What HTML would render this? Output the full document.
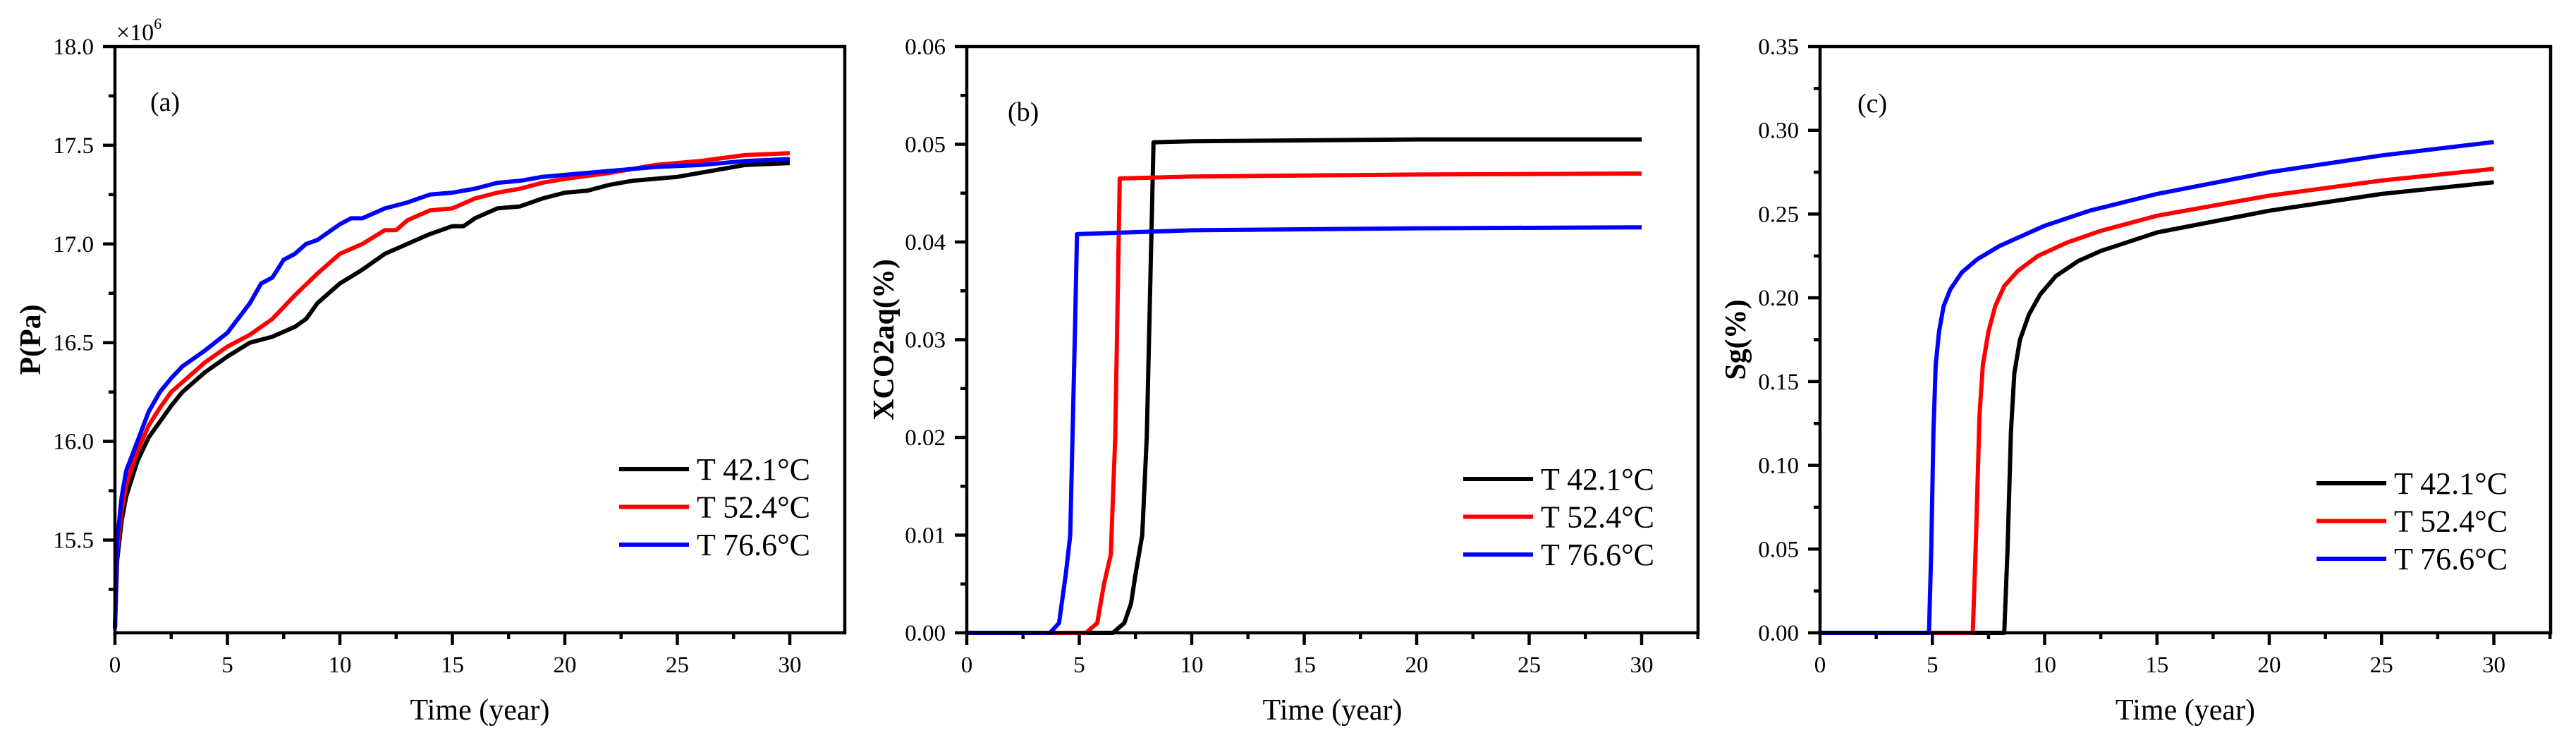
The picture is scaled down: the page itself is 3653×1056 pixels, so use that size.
<!DOCTYPE html>
<html><head><meta charset="utf-8">
<style>
html,body{margin:0;padding:0;background:#fff;}
svg{display:block;font-family:"Liberation Serif","Times New Roman",serif;}
</style></head>
<body>
<svg id="fig" width="3653" height="1056" viewBox="0 0 3653 1056" xmlns="http://www.w3.org/2000/svg"></svg>
<script>
// ---- Panel (a) data: pressure (x10^6 Pa) ----
const aT_black = [0,0.1,0.3,0.5,1,1.5,2,2.5,3,4,5,6,7,8,8.5,9,10,11,12,13,14,15,15.5,16,17,18,19,20,21,22,23,24,25,26,27,28,30];
const aV_black = [15.05,15.4,15.6,15.72,15.9,16.02,16.1,16.18,16.25,16.35,16.43,16.5,16.53,16.58,16.62,16.7,16.8,16.87,16.95,17.0,17.05,17.09,17.09,17.13,17.18,17.19,17.23,17.26,17.27,17.3,17.32,17.33,17.34,17.36,17.38,17.4,17.41];
const aT_red = [0,0.1,0.3,0.5,1,1.5,2,2.5,3,4,5,6,7,8,9,10,11,12,12.5,13,14,15,16,17,18,19,20,22,24,26,28,30];
const aV_red = [15.05,15.45,15.65,15.78,15.95,16.08,16.17,16.25,16.3,16.4,16.48,16.54,16.62,16.74,16.85,16.95,17.0,17.07,17.07,17.12,17.17,17.18,17.23,17.26,17.28,17.31,17.33,17.36,17.4,17.42,17.45,17.46];
const aT_blue = [0,0.1,0.3,0.5,1,1.5,2,2.5,3,4,5,6,6.5,7,7.5,8,8.5,9,10,10.5,11,12,13,14,15,16,17,18,19,20,22,24,26,28,30];
const aV_blue = [15.05,15.5,15.72,15.85,16.0,16.15,16.25,16.32,16.38,16.46,16.55,16.7,16.8,16.83,16.92,16.95,17.0,17.02,17.1,17.13,17.13,17.18,17.21,17.25,17.26,17.28,17.31,17.32,17.34,17.35,17.37,17.39,17.4,17.42,17.43];
const aYTicks = ["15.5","16.0","16.5","17.0","17.5","18.0"];
// ---- Panel (b) data: XCO2aq ----
const bT_black = [0,6.5,7,7.3,7.5,7.8,8,8.1,8.3,10,20,30];
const bV_black = [0,0,0.001,0.003,0.006,0.01,0.02,0.03,0.0502,0.0503,0.0505,0.0505];
const bT_red = [0,5.3,5.8,6.1,6.4,6.6,6.8,10,20,30];
const bV_red = [0,0,0.001,0.005,0.008,0.02,0.0465,0.0467,0.0469,0.047];
const bT_blue = [0,3.7,4.1,4.4,4.6,4.8,4.9,10,20,30];
const bV_blue = [0,0,0.001,0.006,0.01,0.03,0.0408,0.0412,0.0414,0.0415];
const bYTicks = ["0.00","0.01","0.02","0.03","0.04","0.05","0.06"];
// ---- Panel (c) data: Sg ----
const cT_black = [0,8.2,8.35,8.5,8.65,8.9,9.3,9.8,10.5,11.5,12.5,15,20,25,30];
const cV_black = [0,0,0.05,0.12,0.155,0.175,0.19,0.202,0.213,0.222,0.228,0.239,0.252,0.262,0.269];
const cT_red = [0,6.8,6.95,7.1,7.25,7.5,7.8,8.2,8.8,9.7,11,12.5,15,20,25,30];
const cV_red = [0,0,0.06,0.13,0.16,0.18,0.195,0.207,0.216,0.225,0.233,0.24,0.249,0.261,0.27,0.277];
const cT_blue = [0,4.85,4.95,5.05,5.15,5.3,5.5,5.8,6.3,7,8,9,10,12,15,20,25,30];
const cV_blue = [0,0,0.05,0.12,0.16,0.18,0.195,0.205,0.215,0.223,0.231,0.237,0.243,0.252,0.262,0.275,0.285,0.293];
const cYTicks = ["0.00","0.05","0.10","0.15","0.20","0.25","0.30","0.35"];
const xTicks = ["0","5","10","15","20","25","30"];
const legendLabels = ["T 42.1\u00B0C","T 52.4\u00B0C","T 76.6\u00B0C"];

const NS="http://www.w3.org/2000/svg";
const svg=document.getElementById('fig');
function mk(tag,attrs,parent){const e=document.createElementNS(NS,tag);for(const k in attrs)e.setAttribute(k,attrs[k]);(parent||svg).appendChild(e);return e;}

function panel(cfg){
  const g=mk('g',{});
  
  
  const L=cfg.left,R=cfg.right,T=66,B=897;
  const xs=(v)=>L+v*cfg.pxPerYear;
  const ys=(v)=>B-(v-cfg.ymin)/(cfg.ymax-cfg.ymin)*(B-T);
  const cols=['#000000','#ff0000','#0000ff'];
  cfg.series.forEach((s,i)=>{
    let d='';
    for(let k=0;k<s[0].length;k++){d+=(k?'L':'M')+xs(s[0][k]).toFixed(1)+' '+ys(s[1][k]).toFixed(1);}
    const p=mk('path',{d:d,fill:'none',stroke:cols[i],'stroke-width':6,'stroke-linejoin':'round'},g);
    
    
  });
  const fr=mk('rect',{x:L,y:T,width:R-L,height:B-T,fill:'none',stroke:'#000','stroke-width':4.5},g);
  
  
  xTicks.forEach((t,i)=>{
    const v=parseFloat(t);const x=xs(v);
    mk('line',{x1:x,y1:B,x2:x,y2:B+17,stroke:'#000','stroke-width':4.5},g);
    const xm=xs(v+2.5);
    if(xm<R) mk('line',{x1:xm,y1:B,x2:xm,y2:B+9,stroke:'#000','stroke-width':4.5},g);
    const tx=mk('text',{x:x,y:953,'font-size':33,'text-anchor':'middle'},g);tx.textContent=t;
    
    
  });
  cfg.yTicks.forEach((t,i)=>{
    const v=parseFloat(t);const y=ys(v);
    mk('line',{x1:L-17,y1:y,x2:L,y2:y,stroke:'#000','stroke-width':4.5},g);
    const ym=ys(v-cfg.ystep/2);
    if(ym<B-2) mk('line',{x1:L-9,y1:ym,x2:L,y2:ym,stroke:'#000','stroke-width':4.5},g);
    const tx=mk('text',{x:L-30,y:y+11,'font-size':33,'text-anchor':'end'},g);tx.textContent=t;
    
    
  });
  const xt=mk('text',{x:(L+R)/2,y:1020,'font-size':42,'text-anchor':'middle'},g);xt.textContent='Time (year)';
  
  
  const yt=mk('text',{x:0,y:0,'font-size':42,'font-weight':'bold','text-anchor':'middle',transform:`translate(${cfg.ytx},${(T+B)/2}) rotate(-90)`},g);yt.textContent=cfg.ytitle;
  
  
  const pl=mk('text',{x:cfg.lab[0],y:cfg.lab[1],'font-size':38},g);pl.textContent=cfg.label;
  
  
  legendLabels.forEach((t,i)=>{
    const y=cfg.leg[1]+i*53.5;
    const lg=mk('g',{},g);
    
    
    mk('line',{x1:cfg.leg[0],y1:y,x2:cfg.leg[0]+99,y2:y,stroke:cols[i],'stroke-width':6},lg);
    const tx=mk('text',{x:cfg.leg[0]+110,y:y+15,'font-size':44},lg);tx.textContent=t;
  });
  return g;
}

panel({name:'panel-a-pressure',left:163,right:1198,pxPerYear:31.9,ymin:15.03,ymax:18.0,ystep:0.5,yTicks:aYTicks,
  series:[[aT_black,aV_black],[aT_red,aV_red],[aT_blue,aV_blue]],ytitle:'P(Pa)',ytx:57,label:'(a)',lab:[213,157],leg:[878,665]});
const m=mk('text',{x:165,y:57,'font-size':34});


m.innerHTML='\u00D710<tspan dy="-16" font-size="22">6</tspan>';

panel({name:'panel-b-xco2aq',left:1371,right:2408,pxPerYear:31.9,ymin:0,ymax:0.06,ystep:0.01,yTicks:bYTicks,
  series:[[bT_black,bV_black],[bT_red,bV_red],[bT_blue,bV_blue]],ytitle:'XCO2aq(%)',ytx:1267,label:'(b)',lab:[1429,171],leg:[2075,679]});

panel({name:'panel-c-sg',left:2581,right:3617,pxPerYear:31.85,ymin:0,ymax:0.35,ystep:0.05,yTicks:cYTicks,
  series:[[cT_black,cV_black],[cT_red,cV_red],[cT_blue,cV_blue]],ytitle:'Sg(%)',ytx:2475,label:'(c)',lab:[2634,159],leg:[3285,685]});
</script>
</body></html>
